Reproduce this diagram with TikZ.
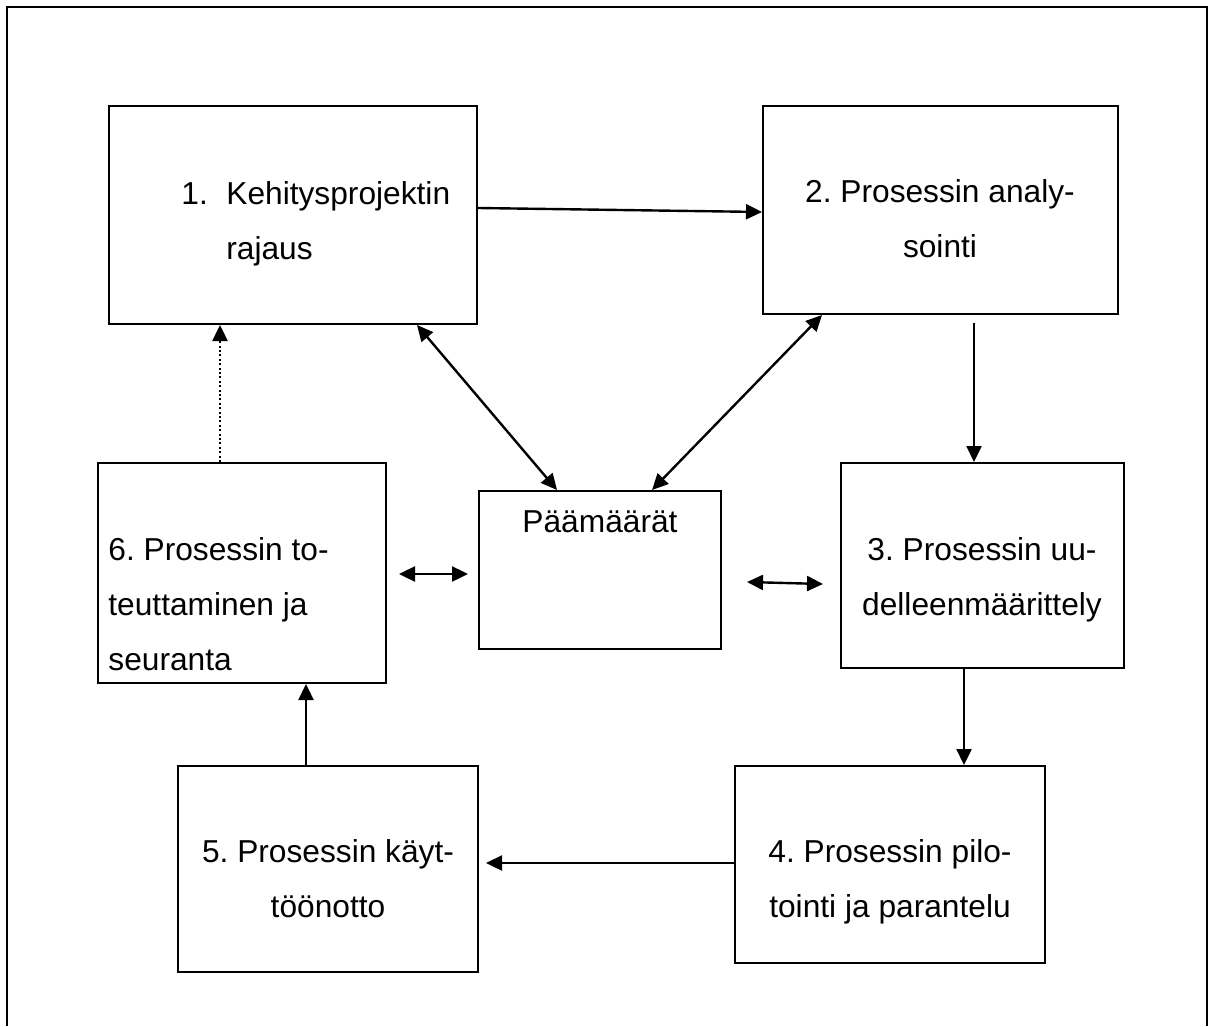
\documentclass[tikz,border=0pt]{standalone}
\usepackage{fontspec}
\setmainfont{Liberation Sans}
\usepackage{tikz}
\usetikzlibrary{arrows.meta}

\begin{document}
\begin{tikzpicture}[x=0.5pt, y=-0.5pt,
        >={Triangle[length=8pt, width=7.5pt]},
        box/.style={draw, line width=1pt, inner sep=0pt},
        txt/.style={inner sep=0pt, anchor=base, align=center, font=\fontsize{15.85pt}{27.5pt}\selectfont\frenchspacing},
        link/.style={line width=1.2pt}]
                \useasboundingbox (0,0) rectangle (1213,1026);
                \draw[line width=1.4pt] (7,1026) -- (7,7) -- (1207,7) -- (1207,1026);

                \node[box, minimum width=184pt, minimum height=109pt] (b1) at (293,215) {};
                \node[box, minimum width=177.5pt, minimum height=104pt] (b2) at (940.5,210) {};
                \node[box, minimum width=121pt, minimum height=79pt] (goal) at (600,570) {};
                \node[box, minimum width=141.5pt, minimum height=102.5pt] (b3) at (982.5,565.5) {};
                \node[box, minimum width=155pt, minimum height=98.5pt] (b4) at (890,864.5) {};
                \node[box, minimum width=150pt, minimum height=103pt] (b5) at (328,869) {};
                \node[box, minimum width=144pt, minimum height=110pt] (b6) at (242,573) {};

                \node[txt, anchor=base west, align=left] (t1) at (181,260) {\makebox[22.5pt][l]{1.}Kehitysprojektin\\\hspace*{22.5pt}rajaus};
                \node[txt] (t2) at (940,258) {2. Prosessin analy-\\sointi};
                \node[txt] (tgoal) at (600,532) {Päämäärät};
                \node[txt] (t3) at (982,615) {3. Prosessin uu-\\delleenmäärittely};
                \node[txt] (t4) at (890,917) {4. Prosessin pilo-\\tointi ja parantelu};
                \node[txt] (t5) at (328,917) {5. Prosessin käyt-\\töönotto};
                \node[txt, anchor=base west, align=left] (t6) at (108,670) {6. Prosessin to-\\teuttaminen ja\\seuranta};

                \coordinate (c23) at (974,323);
                \coordinate (c45) at (486,863);
                \coordinate (l6) at (399,574);
                \coordinate (r6) at (468,574);
                \coordinate (lgoal) at (747,582);
                \coordinate (rgoal) at (823,584);

                \draw[->, link] ([yshift=3.5pt]b1.east) -- ([yshift=-1pt]b2.west);
                \draw[->, link] (c23) -- (c23 |- b3.north);
                \draw[->, link] ([xshift=37pt]b4.north |- b3.south) -- ([xshift=37pt]b4.north);
                \draw[->, link] (b4.west |- c45) -- (c45);
                \draw[->, link] ([xshift=-11pt]b5.north) -- ([xshift=-11pt]b5.north |- b6.south);
                \draw[->, link, dash pattern=on 1pt off 1.2pt] ([xshift=-11pt]b6.north) -- ([xshift=-11pt]b6.north |- b1.south);
                \draw[<->, link] ([xshift=62pt]b1.south) -- ([xshift=-21.5pt]goal.north);
                \draw[<->, link] ([xshift=-59.25pt]b2.south) -- ([xshift=26pt]goal.north);
                \draw[<->, link] (l6) -- (r6);
                \draw[<->, link] (lgoal) -- (rgoal);
\end{tikzpicture}
\end{document}
